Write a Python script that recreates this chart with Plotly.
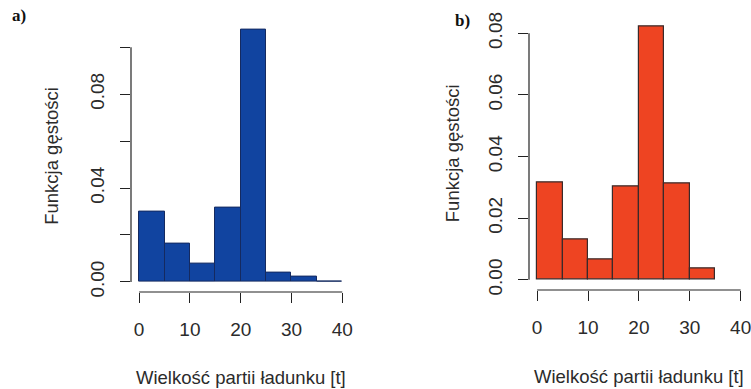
import plotly.graph_objects as go

# Data
bin_edges = [0, 5, 10, 15, 20, 25, 30, 35, 40]
density_a = [0.0301, 0.0162, 0.0080, 0.0318, 0.1075, 0.0041, 0.0021, 0.0003]
density_b = [0.0316, 0.0130, 0.0066, 0.0304, 0.0822, 0.0313, 0.0036]
x_ticks = [0, 10, 20, 30, 40]
y_ticks_a = [0.00, 0.02, 0.04, 0.06, 0.08, 0.10]
y_ticktext_a = ["0.00", "", "0.04", "", "0.08", ""]
y_ticks_b = [0.00, 0.02, 0.04, 0.06, 0.08]
y_ticktext_b = ["0.00", "0.02", "0.04", "0.06", "0.08"]
x_title = "Wielkość partii ładunku [t]"
y_title = "Funkcja gęstości"

W, H = 751, 389
FONT = "Liberation Sans, Arial, sans-serif"
TXT = "#2b2b2b"
TICK_SIZE = 19
TITLE_SIZE = 18.5

def centers(edges, n):
    return [(edges[i] + edges[i + 1]) / 2 for i in range(n)]

def widths(edges, n):
    return [edges[i + 1] - edges[i] for i in range(n)]

fig = go.Figure()
fig.add_trace(go.Bar(
    x=centers(bin_edges, len(density_a)), y=density_a,
    width=widths(bin_edges, len(density_a)),
    marker=dict(color="#1144A0", line=dict(color="#152a60", width=1)),
    xaxis="x", yaxis="y", showlegend=False,
))
fig.add_trace(go.Bar(
    x=centers(bin_edges, len(density_b)), y=density_b,
    width=widths(bin_edges, len(density_b)),
    marker=dict(color="#EE4422", line=dict(color="#3a2a2a", width=1.2)),
    xaxis="x2", yaxis="y2", showlegend=False,
))

def dom_x(l, r):
    return [l / W, r / W]

def dom_y(top, bot):
    return [1 - bot / H, 1 - top / H]

ya_max = max(density_a) * 1.04
yb_max = max(density_b) * 1.04
ya_min = -max(density_a) * 0.04
yb_min = -max(density_b) * 0.04

common_x = dict(range=[-1.6, 41.6], tickvals=x_ticks, ticks="outside", ticklen=10,
                tickcolor="#222", tickwidth=1, showgrid=False, zeroline=False,
                showline=False, tickfont=dict(family=FONT, size=TICK_SIZE, color=TXT),
                ticklabelstandoff=10, automargin=False, ticklabeloverflow="allow")
common_y = dict(ticks="outside", ticklen=10, tickcolor="#222", tickwidth=1,
                showgrid=False, zeroline=False, showline=False, tickangle=-90,
                tickfont=dict(family=FONT, size=TICK_SIZE, color=TXT),
                ticklabelstandoff=8, automargin=False, ticklabeloverflow="allow")

fig.update_layout(
    width=W, height=H,
    margin=dict(l=0, r=0, t=0, b=0),
    paper_bgcolor="white", plot_bgcolor="white",
    bargap=0,
    xaxis=dict(domain=dom_x(131, 350.4), anchor="y", **common_x),
    yaxis=dict(domain=dom_y(19.6, 292), anchor="x", range=[ya_min, ya_max],
               tickvals=y_ticks_a, ticktext=y_ticktext_a, **common_y),
    xaxis2=dict(domain=dom_x(529, 748.8), anchor="y2", **common_x),
    yaxis2=dict(domain=dom_y(16.4, 290), anchor="x2", range=[yb_min, yb_max],
                tickvals=y_ticks_b, ticktext=y_ticktext_b, **common_y),
)

# R-style axis lines spanning only the tick range
for xr, yr, yt in [("x", "y", y_ticks_a), ("x2", "y2", y_ticks_b)]:
    fig.add_shape(type="line", xref=xr + " domain", yref=yr,
                  x0=0, x1=0, y0=yt[0], y1=yt[-1],
                  line=dict(color="#222", width=1.2))
    fig.add_shape(type="line", xref=xr, yref=yr + " domain",
                  x0=x_ticks[0], x1=x_ticks[-1], y0=0, y1=0,
                  line=dict(color="#222", width=1.2))

# axis titles
for xr, yr, ydx, xty in [("x", "y", -79, -85), ("x2", "y2", -77, -86)]:
    fig.add_annotation(text=x_title, xref=xr, yref=yr + " domain",
                       x=20, y=0, yshift=xty, xanchor="center", yanchor="middle",
                       showarrow=False,
                       font=dict(family=FONT, size=TITLE_SIZE, color=TXT))
    fig.add_annotation(text=y_title, xref=xr + " domain", yref=yr + " domain",
                       x=0, y=0.5, xshift=ydx, xanchor="center", yanchor="middle",
                       textangle=-90, showarrow=False,
                       font=dict(family=FONT, size=TITLE_SIZE, color=TXT))

# panel labels
SERIF = "Liberation Serif, Times New Roman, serif"
fig.add_annotation(text="<b>a)</b>", xref="paper", yref="paper", x=19 / W, y=1 - 16 / H,
                   xanchor="center", yanchor="middle", showarrow=False,
                   font=dict(family=SERIF, size=17, color="#111"))
fig.add_annotation(text="<b>b)</b>", xref="paper", yref="paper", x=462 / W, y=1 - 21 / H,
                   xanchor="center", yanchor="middle", showarrow=False,
                   font=dict(family=SERIF, size=17, color="#111"))

fig.write_html("out.html", post_script="document.body.style.margin='0';",
               config={"displayModeBar": False})
